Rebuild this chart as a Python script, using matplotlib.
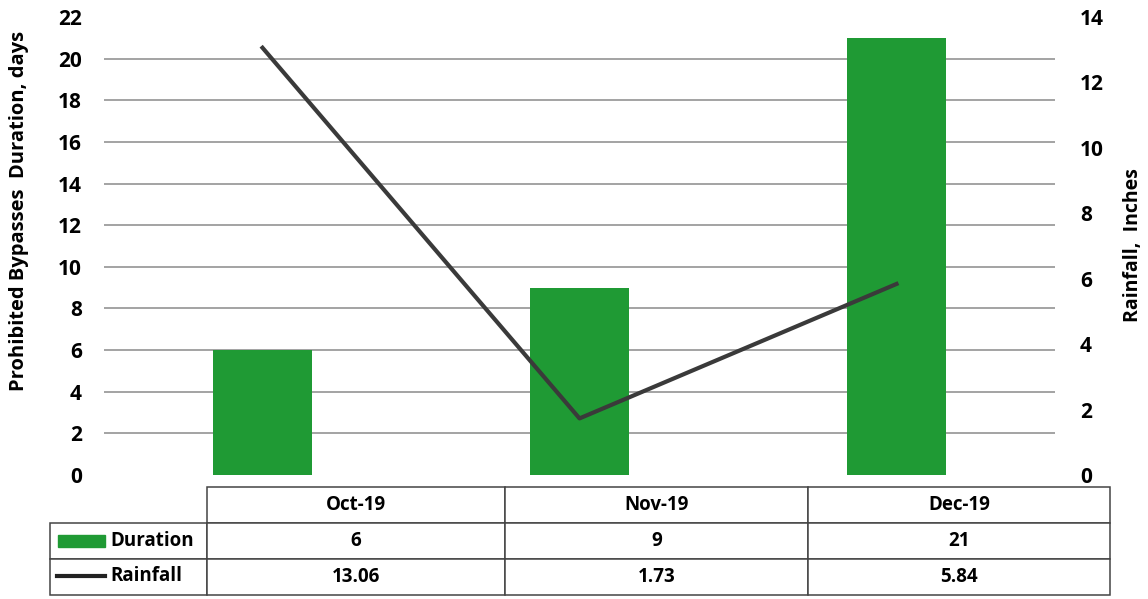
import numpy as np
import matplotlib.pyplot as plt
from matplotlib.patches import Rectangle
from matplotlib.lines import Line2D

plt.rcParams['font.family'] = ['Open Sans', 'DejaVu Sans']
plt.rcParams['font.weight'] = 'bold'

# 数据
months = ['Oct-19', 'Nov-19', 'Dec-19']
duration = [6, 9, 21]
rainfall = [13.06, 1.73, 5.84]
duration_txt = ['6', '9', '21']
rainfall_txt = ['13.06', '1.73', '5.84']

green = '#1f9a34'
line_col = '#3a3a3a'

fig = plt.figure(figsize=(11.48, 5.99), dpi=100)
ax = fig.add_axes([0.0906, 0.207, 0.8284, 0.7646])
x = np.arange(len(months))

ax.bar(x, duration, width=0.31, color=green, zorder=3)
ax.set_xlim(-0.5, 2.5)
ax.set_ylim(0, 22)
ax.set_yticks(np.arange(0, 23, 2))
for y in range(2, 21, 2):
    ax.axhline(y, color='#8a8a8a', lw=1.1, zorder=1)
ax.set_xticks([])
for s in ax.spines.values():
    s.set_visible(False)
ax.tick_params(axis='y', length=0, pad=16, labelsize=15)
ax.set_ylabel('Prohibited Bypasses  Duration, days', fontsize=14.5, fontweight='bold')
ax.yaxis.set_label_coords(-0.079, 0.577)

ax2 = ax.twinx()
ax2.plot(x, rainfall, color=line_col, lw=3, zorder=4)
ax2.set_ylim(0, 14)
ax2.set_yticks(np.arange(0, 15, 2))
for s in ax2.spines.values():
    s.set_visible(False)
ax2.tick_params(axis='y', length=0, pad=18, labelsize=15)
ax2.set_ylabel('Rainfall,  Inches', fontsize=14, fontweight='bold')
ax2.yaxis.set_label_coords(1.071, 0.502)

# 表格
cells = [[''] + months, [''] + duration_txt, [''] + rainfall_txt]
tbl = ax.table(cellText=cells, cellLoc='center',
               colWidths=[157, 298, 303, 302],
               bbox=[-0.0568, -0.262, 1.1146, 0.236])
tbl.auto_set_font_size(False)
for (r, c), cell in tbl.get_celld().items():
    cell.set_edgecolor('#444444')
    cell.set_linewidth(1.1)
    cell.get_text().set_fontsize(13.5)
    cell.get_text().set_fontweight('bold')
    if r == 0 and c == 0:
        cell.visible_edges = ''

# 图例说明
W, H = 1148, 599
fig.patches.append(Rectangle((58 / W, 1 - 547 / H), 47 / W, 12 / H,
                             transform=fig.transFigure, color=green))
fig.lines.append(Line2D([57 / W, 105 / W], [1 - 576 / H, 1 - 576 / H],
                        transform=fig.transFigure, color='#222222', lw=3))
fig.text(110 / W, 1 - 541 / H, 'Duration', fontsize=13.5, fontweight='bold', va='center')
fig.text(110 / W, 1 - 576 / H, 'Rainfall', fontsize=13.5, fontweight='bold', va='center')

fig.savefig('out.png', dpi=100, facecolor='white')
